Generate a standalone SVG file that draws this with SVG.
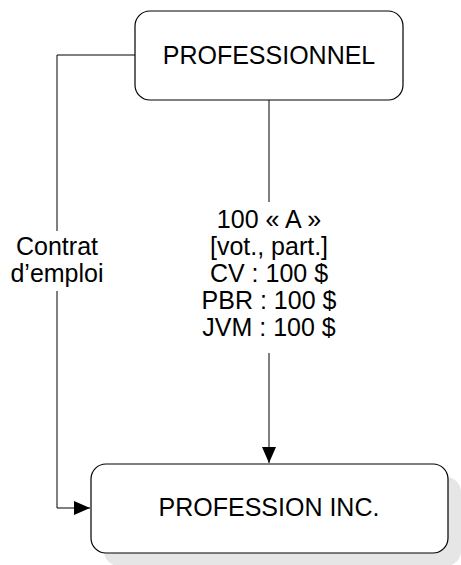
<svg xmlns="http://www.w3.org/2000/svg" width="461" height="565" viewBox="0 0 461 565">
<defs>
<style>
.box{fill:#fff;stroke:#000;stroke-width:1.2}
.shadow{fill:#e6e6e6;stroke:none}
.t{font-family:"Liberation Sans",Arial,sans-serif;font-size:25px;fill:#000;text-anchor:middle}
.c{fill:none;stroke:#000;stroke-width:1}
.lbg{fill:#fff;stroke:none}
</style>
<marker id="arr" viewBox="0 0 16 14" refX="16" refY="7" markerWidth="16" markerHeight="14" markerUnits="userSpaceOnUse" orient="auto">
<path d="M0,0 L16,7 L0,14 Z" fill="#000"/>
</marker>
</defs>
<g id="connectors">
<path class="c" d="M269,100 L269,463" marker-end="url(#arr)"/>
<path class="c" d="M135,55 L57,55 L57,508 L90,508" marker-end="url(#arr)"/>
<rect class="lbg" x="203" y="202" width="132" height="151"/>
<text class="t" x="269" y="228">100 « A »</text>
<text class="t" x="269" y="255">[vot., part.]</text>
<text class="t" x="269" y="282">CV : 100 $</text>
<text class="t" x="269" y="309">PBR : 100 $</text>
<text class="t" x="269" y="336">JVM : 100 $</text>
<rect class="lbg" x="5" y="231" width="104" height="60"/>
<text class="t" x="57" y="255">Contrat</text>
<text class="t" x="57" y="282">d’emploi</text>
</g>
<g id="professionnel">
<rect class="box" x="135" y="11" width="268" height="89" rx="15" ry="15"/>
<text class="t" x="269" y="64">PROFESSIONNEL</text>
</g>
<g id="profession-inc">
<rect class="shadow" x="104" y="477" width="357" height="89" rx="15" ry="15"/>
<rect class="box" x="91" y="464" width="357" height="89" rx="15" ry="15"/>
<text class="t" x="269" y="516">PROFESSION INC.</text>
</g>
</svg>
